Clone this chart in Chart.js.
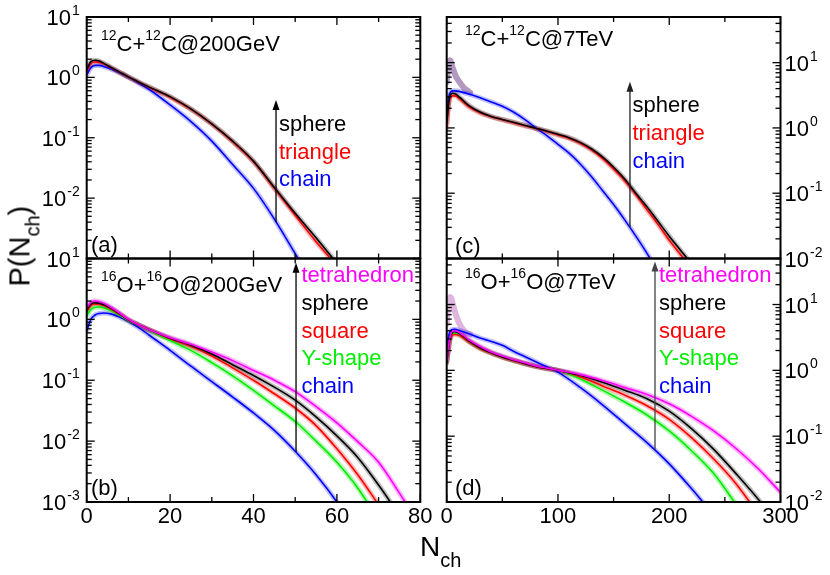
<!DOCTYPE html>
<html>
<head>
<meta charset="utf-8">
<script src="https://cdn.jsdelivr.net/npm/chart.js@4/dist/chart.umd.min.js"></script>
<style>
body { margin: 0; background: #fff; }
#page { position: relative; width: 830px; height: 575px; font-family: "Liberation Sans", Arial, sans-serif; overflow: hidden; }
#page canvas { position: absolute; left: 0; top: 0; }
.txt { position: absolute; white-space: nowrap; line-height: 1; }
.up { position: relative; font-size: 14px; top: -11px; }
.dn { position: relative; font-size: 20px; }
</style>
</head>
<body>
<div id="page">
<canvas id="pa" width="830" height="575"></canvas>
<canvas id="pb" width="830" height="575"></canvas>
<canvas id="pc" width="830" height="575"></canvas>
<canvas id="pd" width="830" height="575"></canvas>
</div>
<script>
// tick labels
var leftXTicks = [0, 20, 40, 60, 80];
var rightXTicks = [0, 100, 200, 300];
var leftYTicks = [10, 1, 0.1, 0.01, 0.001];
var rightYTicks = [10, 1, 0.1, 0.01];

// (a) 12C+12C@200GeV
var nA = [0, 1, 2, 3, 4, 6, 8, 10, 12, 15, 20, 25, 30, 35, 40, 45, 50, 55, 60];
var aSphere = [1.35, 1.82, 1.92, 1.86, 1.72, 1.44, 1.21, 1.02, 0.87, 0.69, 0.48, 0.30, 0.17, 0.088, 0.041, 0.015, 0.0056, 0.0022, 0.00083];
var aTriangle = [1.25, 1.7, 1.8, 1.78, 1.68, 1.42, 1.2, 1.01, 0.86, 0.68, 0.47, 0.295, 0.168, 0.086, 0.040, 0.0145, 0.0052, 0.0019, 0.00076];
var aChain = [1.1, 1.45, 1.58, 1.58, 1.52, 1.36, 1.18, 1.0, 0.84, 0.63, 0.35, 0.185, 0.088, 0.036, 0.0145, 0.0045, 0.0012, 0.0003, null];

// (b) 16O+16O@200GeV
var nB = [0, 1, 2, 3, 4, 6, 8, 10, 13, 16, 20, 25, 30, 35, 40, 45, 50, 55, 60, 65, 70, 75, 80];
var bTetra = [1.55, 1.9, 2.0, 1.95, 1.85, 1.55, 1.25, 1.0, 0.78, 0.63, 0.50, 0.39, 0.29, 0.21, 0.145, 0.10, 0.065, 0.037, 0.020, 0.0098, 0.0045, 0.0014, 0.0004];
var bSphere = [1.45, 1.8, 1.88, 1.85, 1.75, 1.5, 1.22, 0.98, 0.78, 0.63, 0.49, 0.375, 0.27, 0.18, 0.12, 0.077, 0.047, 0.025, 0.0122, 0.0054, 0.0019, 0.0006, null];
var bSquare = [1.35, 1.7, 1.8, 1.78, 1.7, 1.45, 1.2, 0.97, 0.78, 0.63, 0.48, 0.36, 0.25, 0.16, 0.10, 0.06, 0.035, 0.018, 0.0075, 0.0028, 0.0009, null, null];
var bYshape = [1.15, 1.45, 1.58, 1.6, 1.55, 1.38, 1.15, 0.95, 0.77, 0.61, 0.45, 0.31, 0.195, 0.118, 0.068, 0.038, 0.021, 0.010, 0.0045, 0.0017, 0.0005, null, null];
var bChain = [0.65, 1.0, 1.18, 1.25, 1.27, 1.22, 1.08, 0.93, 0.69, 0.49, 0.31, 0.17, 0.095, 0.053, 0.029, 0.015, 0.0068, 0.0028, 0.001, 0.0003, null, null, null];

// (c) 12C+12C@7TeV
var nC = [0, 2, 5, 8, 12, 20, 30, 40, 50, 60, 70, 80, 90, 100, 110, 120, 130, 140, 150, 160, 170, 180, 190, 200, 210, 220, 230];
var cSphere = [1.2, 2.6, 3.4, 3.3, 2.9, 2.2, 1.75, 1.5, 1.35, 1.22, 1.1, 0.99, 0.9, 0.8, 0.71, 0.6, 0.48, 0.36, 0.25, 0.165, 0.1, 0.062, 0.037, 0.022, 0.0135, 0.0082, 0.0045];
var cTriangle = [1.0, 2.4, 3.1, 3.1, 2.75, 2.1, 1.7, 1.48, 1.33, 1.2, 1.08, 0.98, 0.88, 0.78, 0.69, 0.58, 0.46, 0.34, 0.235, 0.155, 0.095, 0.056, 0.033, 0.019, 0.0115, 0.0068, 0.0035];
var cChain = [1.6, 3.0, 3.7, 3.7, 3.6, 3.3, 2.9, 2.5, 2.15, 1.75, 1.35, 1.0, 0.76, 0.56, 0.41, 0.28, 0.18, 0.11, 0.067, 0.039, 0.022, 0.012, 0.0062, 0.003, null, null, null];
var nCPeak = [0, 1, 2, 3, 4, 5, 6, 8, 10, 12, 15, 18, 21];
var cPeak = [5, 8, 10, 10.9, 10, 8.7, 7.8, 6.3, 5.5, 4.9, 4.2, 3.8, 3.5];

// (d) 16O+16O@7TeV
var nD = [0, 3, 7, 12, 20, 30, 40, 50, 60, 70, 80, 90, 100, 120, 140, 160, 180, 200, 220, 240, 260, 280, 300];
var dTetra = [1.4, 3.2, 4.0, 3.7, 2.9, 2.3, 1.9, 1.65, 1.45, 1.3, 1.17, 1.08, 1.0, 0.86, 0.7, 0.55, 0.43, 0.31, 0.2, 0.12, 0.065, 0.032, 0.014];
var dSphere = [1.35, 3.1, 3.9, 3.6, 2.8, 2.2, 1.85, 1.6, 1.42, 1.27, 1.15, 1.07, 1.0, 0.84, 0.66, 0.5, 0.37, 0.24, 0.13, 0.063, 0.027, 0.011, 0.004];
var dSquare = [1.3, 2.9, 3.5, 3.35, 2.7, 2.15, 1.82, 1.58, 1.4, 1.26, 1.14, 1.06, 1.0, 0.8, 0.58, 0.42, 0.29, 0.18, 0.095, 0.045, 0.019, 0.0065, 0.002];
var dYshape = [1.3, 3.0, 3.7, 3.45, 2.75, 2.18, 1.84, 1.6, 1.41, 1.27, 1.15, 1.06, 1.0, 0.74, 0.5, 0.33, 0.21, 0.12, 0.06, 0.027, 0.0092, 0.003, null];
var dChain = [2.3, 3.9, 4.2, 4.0, 3.6, 3.1, 2.75, 2.4, 1.95, 1.62, 1.35, 1.13, 0.94, 0.55, 0.3, 0.155, 0.08, 0.038, 0.016, 0.0063, 0.0025, null, null];
var nDPeak = [0, 1, 2, 3, 4, 5, 6, 8, 10, 12, 15, 18, 21];
var dPeak = [5, 9, 12, 13, 12.5, 11, 9.5, 7.2, 5.8, 4.9, 4.1, 3.7, 3.5];

var FONT = '"Liberation Sans", Arial, sans-serif';
var COLORS = {
    sphere: '#000000',
    triangle: '#ff0000',
    square: '#ff0000',
    chain: '#0000ff',
    yshape: '#00ee00',
    tetra: '#ff00ff'
};
var BANDS = {
    sphere: 'rgba(0,0,0,0.25)',
    triangle: 'rgba(255,0,0,0.28)',
    square: 'rgba(255,0,0,0.28)',
    chain: 'rgba(0,0,255,0.25)',
    yshape: 'rgba(0,230,0,0.3)',
    tetra: 'rgba(255,0,255,0.3)'
};

function points(xs, ys) {
    var out = [];
    xs.forEach(function (x, i) {
        if (ys[i] !== null) out.push({x: x, y: ys[i]});
    });
    return out;
}

function series(xs, ys, key) {
    return [
        {data: points(xs, ys), borderColor: COLORS[key], borderWidth: 1.6, order: 0},
        {data: points(xs, ys), borderColor: BANDS[key], borderWidth: 5, order: 1}
    ];
}

function line(ctx, x0, y0, x1, y1) {
    ctx.beginPath();
    ctx.moveTo(x0, y0);
    ctx.lineTo(x1, y1);
    ctx.stroke();
}

function drawPow(ctx, v, x, y, align) {
    var e = String(Math.round(Math.log10(v)));
    ctx.font = '22px ' + FONT;
    var wb = ctx.measureText('10').width;
    ctx.font = '14px ' + FONT;
    var we = ctx.measureText(e).width;
    var left = align === 'right' ? x - wb - we - 1 : x;
    ctx.textAlign = 'left';
    ctx.font = '22px ' + FONT;
    ctx.fillText('10', left, y + 8);
    ctx.font = '14px ' + FONT;
    ctx.fillText(e, left + wb + 1, y - 2);
}

var framePlugin = {
    id: 'frame',
    afterDatasetsDraw: function (chart, args, opts) {
        var ctx = chart.ctx;
        var a = chart.chartArea;
        var xs = chart.scales.x;
        var ys = chart.scales.y;
        ctx.save();
        ctx.fillStyle = '#000';
        ctx.strokeStyle = '#000';
        ctx.lineWidth = 1.3;
        ctx.textBaseline = 'alphabetic';

        // x ticks, major and midpoint minor
        var xt = opts.xTicks;
        xt.forEach(function (v, i) {
            var px = xs.getPixelForValue(v);
            line(ctx, px, a.bottom, px, a.bottom - 8);
            line(ctx, px, a.top, px, a.top + 8);
            if (i < xt.length - 1) {
                var mx = xs.getPixelForValue((v + xt[i + 1]) / 2);
                line(ctx, mx, a.bottom, mx, a.bottom - 5);
                line(ctx, mx, a.top, mx, a.top + 5);
            }
        });

        // log y ticks
        var lo = Math.floor(Math.log10(ys.min));
        var hi = Math.ceil(Math.log10(ys.max));
        for (var e = lo; e <= hi; e++) {
            for (var k = 1; k < 10; k++) {
                var v = k * Math.pow(10, e);
                if (v < ys.min * 0.999 || v > ys.max * 1.001) continue;
                var py = ys.getPixelForValue(v);
                var len = k === 1 ? 8 : 5;
                line(ctx, a.left, py, a.left + len, py);
                line(ctx, a.right, py, a.right - len, py);
            }
        }

        // arrow
        if (opts.arrow) {
            var ax = xs.getPixelForValue(opts.arrow.x);
            var y0 = ys.getPixelForValue(opts.arrow.from);
            var y1 = ys.getPixelForValue(opts.arrow.to);
            ctx.strokeStyle = opts.arrow.color;
            ctx.fillStyle = opts.arrow.color;
            ctx.lineWidth = 1.3;
            line(ctx, ax, y0, ax, y1 + 6);
            ctx.beginPath();
            ctx.moveTo(ax, y1);
            ctx.lineTo(ax - 3.5, y1 + 10);
            ctx.lineTo(ax + 3.5, y1 + 10);
            ctx.closePath();
            ctx.fill();
            ctx.strokeStyle = '#000';
            ctx.fillStyle = '#000';
        }

        // frame
        ctx.lineWidth = 2;
        ctx.strokeRect(a.left, a.top, a.right - a.left, a.bottom - a.top);

        // tick labels
        (opts.yLabels || []).forEach(function (v) {
            var py = ys.getPixelForValue(v);
            if (opts.ySide === 'right') drawPow(ctx, v, a.right + 4, py, 'left');
            else drawPow(ctx, v, a.left - 7, py, 'right');
        });
        if (opts.xLabels) {
            ctx.font = '22px ' + FONT;
            ctx.textAlign = 'center';
            xt.forEach(function (v) {
                ctx.fillText(String(v), xs.getPixelForValue(v), a.bottom + 21);
            });
        }
        ctx.restore();
    }
};

function makePanel(id, pad, xmax, ymin, ymax, datasets, frame) {
    new Chart(document.getElementById(id), {
        type: 'line',
        data: {datasets: datasets},
        plugins: [framePlugin],
        options: {
            responsive: false,
            animation: false,
            events: [],
            layout: {padding: pad},
            elements: {
                point: {radius: 0},
                line: {cubicInterpolationMode: 'monotone', borderCapStyle: 'round', borderJoinStyle: 'round'}
            },
            datasets: {line: {clip: 0, fill: false}},
            scales: {
                x: {type: 'linear', min: 0, max: xmax, display: false},
                y: {type: 'logarithmic', min: ymin, max: ymax, display: false}
            },
            plugins: {legend: {display: false}, tooltip: {enabled: false}, frame: frame}
        }
    });
}

makePanel('pa', {left: 86.7, top: 17, right: 409.7, bottom: 316.5}, 80, 0.001, 10,
    [].concat(series(nA, aSphere, 'sphere'), series(nA, aTriangle, 'triangle'), series(nA, aChain, 'chain')),
    {xTicks: leftXTicks, yLabels: [10, 1, 0.1, 0.01], arrow: {x: 45.4, from: 0.004, to: 0.42, color: '#000'}});

makePanel('pb', {left: 86.7, top: 258.5, right: 409.7, bottom: 73}, 80, 0.001, 10,
    [].concat(series(nB, bTetra, 'tetra'), series(nB, bSphere, 'sphere'), series(nB, bSquare, 'square'),
        series(nB, bYshape, 'yshape'), series(nB, bChain, 'chain')),
    {xTicks: leftXTicks, yLabels: leftYTicks, xLabels: true, arrow: {x: 50.2, from: 0.0066, to: 8.5, color: '#000'}});

makePanel('pc', {left: 446.7, top: 17, right: 49.5, bottom: 316.5}, 300, 0.01, 50,
    [].concat(series(nC, cSphere, 'sphere'), series(nC, cTriangle, 'triangle'), series(nC, cChain, 'chain'),
        [{data: points(nCPeak, cPeak), borderColor: 'rgba(115,70,140,0.55)', borderWidth: 6, order: 2}]),
    {xTicks: rightXTicks, yLabels: rightYTicks, ySide: 'right', arrow: {x: 164.7, from: 0.030, to: 5.1, color: '#222'}});

makePanel('pd', {left: 446.7, top: 258.5, right: 49.5, bottom: 73}, 300, 0.01, 50,
    [].concat(series(nD, dTetra, 'tetra'), series(nD, dSphere, 'sphere'), series(nD, dSquare, 'square'),
        series(nD, dYshape, 'yshape'), series(nD, dChain, 'chain'),
        [{data: points(nDPeak, dPeak), borderColor: 'rgba(190,110,190,0.5)', borderWidth: 6, order: 2}]),
    {xTicks: rightXTicks, yLabels: rightYTicks, ySide: 'right', xLabels: true, arrow: {x: 187.2, from: 0.063, to: 45, color: '#444'}});

// text overlays
var page = document.getElementById('page');
function addText(html, x, base, size, color) {
    var el = document.createElement('div');
    el.className = 'txt';
    el.style.left = x + 'px';
    el.style.top = (base - 0.8465 * size) + 'px';
    el.style.fontSize = size + 'px';
    el.style.color = color || '#000';
    el.innerHTML = html;
    page.appendChild(el);
    return el;
}

addText('<span class="up">12</span>C+<span class="up">12</span>C@200GeV', 101, 52, 22);
addText('<span class="up">16</span>O+<span class="up">16</span>O@200GeV', 101, 293, 22);
addText('<span class="up">12</span>C+<span class="up">12</span>C@7TeV', 465, 47, 22);
addText('<span class="up">16</span>O+<span class="up">16</span>O@7TeV', 465, 290, 22);

addText('(a)', 91, 253, 22);
addText('(b)', 91, 496, 22);
addText('(c)', 455, 254, 22);
addText('(d)', 455, 496, 22);

addText('sphere', 279, 132, 22, COLORS.sphere);
addText('triangle', 279, 159.5, 22, COLORS.triangle);
addText('chain', 279, 187, 22, COLORS.chain);

addText('sphere', 632.5, 113, 22, COLORS.sphere);
addText('triangle', 632.5, 141, 22, COLORS.triangle);
addText('chain', 632.5, 169, 22, COLORS.chain);

var legendRows = [['tetrahedron', 'tetra'], ['sphere', 'sphere'], ['square', 'square'], ['Y-shape', 'yshape'], ['chain', 'chain']];
legendRows.forEach(function (row, i) {
    addText(row[0], 301.5, 283 + i * 27.7, 22, COLORS[row[1]]);
    addText(row[0], 659, 283 + i * 27.7, 22, COLORS[row[1]]);
});

addText('N<span class="dn" style="top:11px">ch</span>', 420, 557, 28);

var yTitle = addText('P(N<span class="dn" style="top:10px">ch</span>)', 0, 0, 29);
yTitle.style.top = '0px';
yTitle.style.transformOrigin = '0 0';
var w = yTitle.offsetWidth;
yTitle.style.transform = 'translate(' + (30 - 0.8465 * 29) + 'px,' + (246 + w / 2) + 'px) rotate(-90deg)';
</script>
</body>
</html>
